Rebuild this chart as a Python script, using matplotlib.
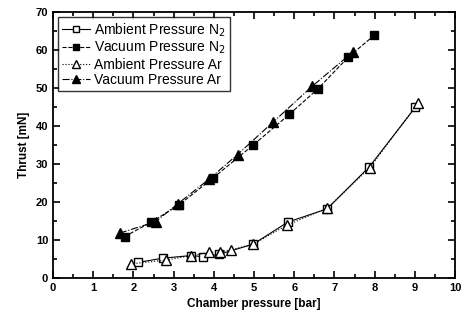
import numpy as np
import matplotlib.pyplot as plt
from matplotlib.ticker import MultipleLocator

plt.rcParams['font.family'] = ['Liberation Sans', 'DejaVu Sans']

# Ambient pressure N2 (open squares)
amb_n2_p = [2.12, 2.73, 3.44, 3.73, 4.13, 4.98, 5.84, 6.82, 7.87, 9.01]
amb_n2_t = [4.1, 5.2, 5.9, 5.6, 6.2, 8.9, 14.7, 18.2, 29.3, 44.9]

# Vacuum pressure N2 (filled squares)
vac_n2_p = [1.78, 2.43, 3.13, 3.99, 4.98, 5.88, 6.58, 7.34, 7.99]
vac_n2_t = [10.9, 14.6, 19.2, 26.4, 35.0, 43.1, 49.7, 58.1, 63.9]

# Ambient pressure Ar (open triangles)
amb_ar_p = [1.93, 2.82, 3.44, 3.88, 4.16, 4.43, 4.98, 5.82, 6.82, 7.88, 9.08]
amb_ar_t = [3.7, 4.7, 5.9, 6.7, 6.9, 7.4, 8.9, 13.9, 18.4, 29.0, 46.1]

# Vacuum pressure Ar (filled triangles)
vac_ar_p = [1.66, 2.55, 3.10, 3.88, 4.59, 5.48, 6.45, 7.47]
vac_ar_t = [11.8, 14.8, 19.5, 26.0, 32.5, 41.1, 50.5, 59.6]

fig = plt.figure(figsize=(4.67, 3.18), dpi=100)
ax = fig.add_axes([0.1135, 0.126, 0.861, 0.836])

ms = 6
ax.plot(amb_n2_p, amb_n2_t, color='black', linestyle='-', linewidth=0.8,
        marker='s', markersize=ms, markerfacecolor='white', label='Ambient Pressure N$_2$')
ax.plot(vac_n2_p, vac_n2_t, color='black', linestyle='--', linewidth=0.8,
        marker='s', markersize=ms, markerfacecolor='black', label='Vacuum Pressure N$_2$')
ax.plot(amb_ar_p, amb_ar_t, color='black', linestyle=':', linewidth=0.8,
        marker='^', markersize=ms + 1, markerfacecolor='white', label='Ambient Pressure Ar')
ax.plot(vac_ar_p, vac_ar_t, color='black', linestyle='-.', linewidth=0.8,
        marker='^', markersize=ms + 1, markerfacecolor='black', label='Vacuum Pressure Ar')

ax.set_xlim(0, 10)
ax.set_ylim(0, 70)
ax.xaxis.set_major_locator(MultipleLocator(1))
ax.xaxis.set_minor_locator(MultipleLocator(0.5))
ax.yaxis.set_major_locator(MultipleLocator(10))
ax.yaxis.set_minor_locator(MultipleLocator(5))
ax.tick_params(which='both', direction='in', top=True, right=True, width=1.2)
ax.tick_params(which='major', length=5, labelsize=8)
ax.tick_params(which='minor', length=3)
for lbl in ax.get_xticklabels() + ax.get_yticklabels():
    lbl.set_fontweight('bold')
for s in ax.spines.values():
    s.set_linewidth(1.3)

ax.set_xlabel('Chamber pressure [bar]', fontsize=8.5, fontweight='bold')
ax.set_ylabel('Thrust [mN]', fontsize=8.5, fontweight='bold')

leg = ax.legend(loc='upper left', fontsize=10, frameon=True, fancybox=False,
                edgecolor='black', handlelength=2.0, borderpad=0.3,
                labelspacing=0.1, handletextpad=0.3, borderaxespad=0.35,
                markerscale=0.8)
leg.get_frame().set_linewidth(1.0)

fig.savefig('out.png', dpi=100)
